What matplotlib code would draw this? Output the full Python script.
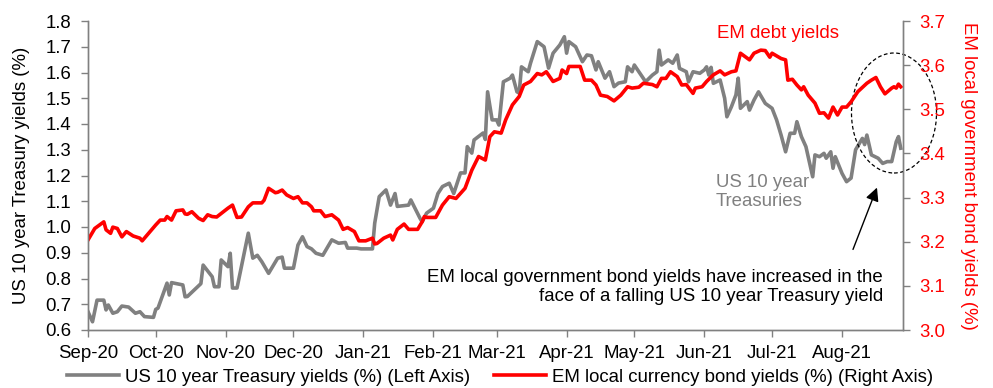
import pandas as pd
import matplotlib
matplotlib.use('Agg')
import matplotlib.pyplot as plt
import matplotlib.dates as mdates
from matplotlib.patches import Ellipse

# US 10 year Treasury yield (%), left axis
us_dates = [
    '2020-09-01', '2020-09-03', '2020-09-05', '2020-09-08', '2020-09-09', '2020-09-10', '2020-09-12',
    '2020-09-14', '2020-09-16', '2020-09-19', '2020-09-22', '2020-09-24', '2020-09-26', '2020-09-30',
    '2020-10-01', '2020-10-02', '2020-10-06', '2020-10-07', '2020-10-08', '2020-10-13', '2020-10-14',
    '2020-10-15', '2020-10-21', '2020-10-22', '2020-10-26', '2020-10-27', '2020-10-29', '2020-10-30',
    '2020-11-02', '2020-11-03', '2020-11-04', '2020-11-06', '2020-11-11', '2020-11-13', '2020-11-15',
    '2020-11-17', '2020-11-20', '2020-11-24', '2020-11-26', '2020-11-27', '2020-12-01', '2020-12-03',
    '2020-12-05', '2020-12-07', '2020-12-09', '2020-12-11', '2020-12-14', '2020-12-18', '2020-12-21',
    '2020-12-24', '2020-12-25', '2020-12-29', '2020-12-31', '2021-01-05', '2021-01-06', '2021-01-08',
    '2021-01-11', '2021-01-13', '2021-01-15', '2021-01-16', '2021-01-21', '2021-01-22', '2021-01-26',
    '2021-01-27', '2021-01-29', '2021-02-01', '2021-02-03', '2021-02-05', '2021-02-08', '2021-02-10',
    '2021-02-13', '2021-02-15', '2021-02-16', '2021-02-18', '2021-02-19', '2021-02-23', '2021-02-24',
    '2021-02-25', '2021-02-27', '2021-03-01', '2021-03-02', '2021-03-04', '2021-03-07', '2021-03-08',
    '2021-03-10', '2021-03-11', '2021-03-12', '2021-03-15', '2021-03-16', '2021-03-19', '2021-03-22',
    '2021-03-24', '2021-03-26', '2021-03-29', '2021-03-31', '2021-04-01', '2021-04-02', '2021-04-05',
    '2021-04-07', '2021-04-08', '2021-04-10', '2021-04-12', '2021-04-14', '2021-04-15', '2021-04-18',
    '2021-04-20', '2021-04-22', '2021-04-24', '2021-04-27', '2021-04-28', '2021-04-30', '2021-05-01',
    '2021-05-04', '2021-05-06', '2021-05-09', '2021-05-11', '2021-05-12', '2021-05-13', '2021-05-16',
    '2021-05-18', '2021-05-20', '2021-05-21', '2021-05-24', '2021-05-25', '2021-05-27', '2021-05-30',
    '2021-06-01', '2021-06-02', '2021-06-03', '2021-06-04', '2021-06-05', '2021-06-08', '2021-06-10',
    '2021-06-11', '2021-06-13', '2021-06-15', '2021-06-16', '2021-06-17', '2021-06-20', '2021-06-21',
    '2021-06-23', '2021-06-25', '2021-06-28', '2021-07-01', '2021-07-03', '2021-07-05', '2021-07-07',
    '2021-07-09', '2021-07-11', '2021-07-12', '2021-07-14', '2021-07-16', '2021-07-19', '2021-07-20',
    '2021-07-22', '2021-07-24', '2021-07-25', '2021-07-27', '2021-07-28', '2021-07-29', '2021-08-01',
    '2021-08-03', '2021-08-05', '2021-08-07', '2021-08-10', '2021-08-11', '2021-08-12', '2021-08-14',
    '2021-08-17', '2021-08-19', '2021-08-21', '2021-08-23', '2021-08-25', '2021-08-26', '2021-08-27',
]
us_yield = [
    0.671, 0.632, 0.716, 0.716, 0.678, 0.697, 0.665,
    0.671, 0.693, 0.689, 0.665, 0.671, 0.652, 0.649,
    0.680, 0.685, 0.782, 0.736, 0.784, 0.775, 0.729,
    0.730, 0.780, 0.852, 0.807, 0.768, 0.768, 0.872,
    0.846, 0.898, 0.763, 0.763, 0.976, 0.879, 0.890,
    0.865, 0.820, 0.879, 0.883, 0.840, 0.840, 0.930,
    0.962, 0.924, 0.915, 0.898, 0.890, 0.950, 0.937,
    0.940, 0.918, 0.918, 0.915, 0.915, 1.015, 1.118,
    1.144, 1.085, 1.130, 1.080, 1.085, 1.105, 1.035,
    1.020, 1.054, 1.073, 1.130, 1.157, 1.170, 1.130,
    1.210, 1.210, 1.312, 1.287, 1.338, 1.365, 1.340,
    1.525, 1.416, 1.416, 1.396, 1.564, 1.578, 1.590,
    1.525, 1.520, 1.622, 1.603, 1.636, 1.720, 1.700,
    1.617, 1.675, 1.707, 1.739, 1.675, 1.720, 1.700,
    1.661, 1.642, 1.668, 1.665, 1.610, 1.642, 1.578,
    1.603, 1.545, 1.559, 1.564, 1.622, 1.603, 1.629,
    1.590, 1.564, 1.590, 1.603, 1.687, 1.629, 1.649,
    1.636, 1.668, 1.616, 1.603, 1.564, 1.603, 1.597,
    1.610, 1.622, 1.590, 1.620, 1.558, 1.571, 1.500,
    1.428, 1.467, 1.513, 1.578, 1.461, 1.487, 1.454,
    1.493, 1.525, 1.480, 1.461, 1.416, 1.357, 1.292,
    1.364, 1.364, 1.409, 1.351, 1.312, 1.195, 1.280,
    1.273, 1.286, 1.267, 1.292, 1.228, 1.273, 1.208,
    1.176, 1.190, 1.300, 1.344, 1.320, 1.357, 1.280,
    1.267, 1.247, 1.254, 1.254, 1.331, 1.351, 1.306,
]

# EM local currency bond yield (%), right axis
em_dates = [
    '2020-09-01', '2020-09-04', '2020-09-08', '2020-09-09', '2020-09-11', '2020-09-12', '2020-09-14',
    '2020-09-16', '2020-09-18', '2020-09-21', '2020-09-24', '2020-09-25', '2020-09-28', '2020-10-01',
    '2020-10-03', '2020-10-05', '2020-10-06', '2020-10-08', '2020-10-10', '2020-10-13', '2020-10-14',
    '2020-10-15', '2020-10-17', '2020-10-20', '2020-10-22', '2020-10-24', '2020-10-26', '2020-10-28',
    '2020-10-30', '2020-11-02', '2020-11-04', '2020-11-06', '2020-11-08', '2020-11-11', '2020-11-13',
    '2020-11-17', '2020-11-18', '2020-11-20', '2020-11-23', '2020-11-24', '2020-11-26', '2020-11-28',
    '2020-12-01', '2020-12-03', '2020-12-05', '2020-12-07', '2020-12-09', '2020-12-10', '2020-12-13',
    '2020-12-15', '2020-12-18', '2020-12-21', '2020-12-23', '2020-12-25', '2020-12-28', '2020-12-30',
    '2021-01-02', '2021-01-05', '2021-01-06', '2021-01-07', '2021-01-10', '2021-01-13', '2021-01-14',
    '2021-01-16', '2021-01-19', '2021-01-21', '2021-01-25', '2021-01-27', '2021-01-28', '2021-01-29',
    '2021-02-02', '2021-02-05', '2021-02-08', '2021-02-11', '2021-02-15', '2021-02-18', '2021-02-21',
    '2021-02-24', '2021-02-26', '2021-02-28', '2021-03-03', '2021-03-05', '2021-03-08', '2021-03-11',
    '2021-03-13', '2021-03-16', '2021-03-19', '2021-03-21', '2021-03-23', '2021-03-26', '2021-03-29',
    '2021-03-30', '2021-04-01', '2021-04-02', '2021-04-07', '2021-04-09', '2021-04-12', '2021-04-14',
    '2021-04-16', '2021-04-19', '2021-04-22', '2021-04-25', '2021-04-28', '2021-04-30', '2021-05-03',
    '2021-05-05', '2021-05-09', '2021-05-11', '2021-05-13', '2021-05-15', '2021-05-17', '2021-05-20',
    '2021-05-22', '2021-05-24', '2021-05-27', '2021-05-28', '2021-05-31', '2021-06-02', '2021-06-05',
    '2021-06-08', '2021-06-10', '2021-06-13', '2021-06-15', '2021-06-17', '2021-06-21', '2021-06-23',
    '2021-06-26', '2021-06-28', '2021-06-30', '2021-07-01', '2021-07-05', '2021-07-07', '2021-07-08',
    '2021-07-10', '2021-07-12', '2021-07-14', '2021-07-15', '2021-07-17', '2021-07-20', '2021-07-22',
    '2021-07-24', '2021-07-26', '2021-07-28', '2021-07-30', '2021-08-01', '2021-08-03', '2021-08-05',
    '2021-08-08', '2021-08-12', '2021-08-14', '2021-08-16', '2021-08-18', '2021-08-20', '2021-08-23',
    '2021-08-24', '2021-08-25', '2021-08-26', '2021-08-27',
]
em_yield = [
    3.204, 3.230, 3.245, 3.227, 3.219, 3.233, 3.230,
    3.211, 3.223, 3.213, 3.208, 3.202, 3.220, 3.238,
    3.249, 3.249, 3.257, 3.249, 3.270, 3.272, 3.263,
    3.262, 3.268, 3.253, 3.248, 3.261, 3.257, 3.256,
    3.264, 3.276, 3.283, 3.255, 3.256, 3.279, 3.288,
    3.288, 3.294, 3.321, 3.311, 3.312, 3.317, 3.306,
    3.298, 3.302, 3.288, 3.288, 3.279, 3.270, 3.270,
    3.257, 3.261, 3.249, 3.228, 3.232, 3.223, 3.202,
    3.202, 3.208, 3.195, 3.196, 3.208, 3.215, 3.204,
    3.228, 3.240, 3.228, 3.228, 3.245, 3.257, 3.255,
    3.255, 3.283, 3.302, 3.298, 3.321, 3.362, 3.393,
    3.385, 3.438, 3.449, 3.446, 3.476, 3.510, 3.529,
    3.555, 3.563, 3.581, 3.578, 3.585, 3.563, 3.570,
    3.589, 3.581, 3.597, 3.597, 3.566, 3.566, 3.555,
    3.532, 3.529, 3.519, 3.532, 3.551, 3.548, 3.550,
    3.559, 3.556, 3.551, 3.570, 3.570, 3.585, 3.574,
    3.555, 3.556, 3.536, 3.548, 3.551, 3.563, 3.578,
    3.587, 3.578, 3.585, 3.587, 3.627, 3.612, 3.627,
    3.634, 3.633, 3.618, 3.627, 3.615, 3.612, 3.566,
    3.568, 3.555, 3.544, 3.551, 3.532, 3.514, 3.491,
    3.492, 3.480, 3.505, 3.487, 3.505, 3.505, 3.517,
    3.540, 3.559, 3.566, 3.572, 3.551, 3.535, 3.548,
    3.551, 3.548, 3.557, 3.551,
]

left_ticks = [0.6, 0.7, 0.8, 0.9, 1.0, 1.1, 1.2, 1.3, 1.4, 1.5, 1.6, 1.7, 1.8]
right_ticks = [3.0, 3.1, 3.2, 3.3, 3.4, 3.5, 3.6, 3.7]

GREY = '#808080'
RED = '#ff0000'

plt.rcParams['font.family'] = ['Liberation Sans', 'DejaVu Sans']
plt.rcParams['font.size'] = 13.4

W, H = 993, 388


def px(x, y):
    # pixel position -> figure fraction
    return (x / W, 1 - y / H)


fig = plt.figure(figsize=(W / 100, H / 100), dpi=100)
ax = fig.add_axes([88 / W, 58 / H, 815 / W, 309 / H])
ax2 = ax.twinx()

l1, = ax.plot(pd.to_datetime(us_dates), us_yield, color=GREY, lw=2.6,
              label='US 10 year Treasury yields (%) (Left Axis)')
l2, = ax2.plot(pd.to_datetime(em_dates), em_yield, color=RED, lw=2.6,
               label='EM local currency bond yields (%) (Right Axis)')

ax.set_xlim(pd.Timestamp('2020-09-01'), pd.Timestamp('2021-08-28'))
ax.set_ylim(0.6, 1.8)
ax2.set_ylim(3.0, 3.7)
ax.set_yticks(left_ticks)
ax.set_yticklabels(['%.1f' % v for v in left_ticks])
ax2.set_yticks(right_ticks)
ax2.set_yticklabels(['%.1f' % v for v in right_ticks])

ax.set_xticks(pd.date_range('2020-09-01', '2021-08-01', freq='MS'))
ax.xaxis.set_major_formatter(mdates.DateFormatter('%b-%y'))

for a in (ax, ax2):
    a.spines['top'].set_visible(False)
    for s in ('left', 'right', 'bottom'):
        a.spines[s].set_color(GREY)
        a.spines[s].set_linewidth(1)
    a.tick_params(direction='out', length=5, width=1, color=GREY, pad=7)
ax.tick_params(axis='x', pad=6)
ax2.tick_params(axis='y', labelcolor=RED)

ax.set_ylabel('US 10 year Treasury yields (%)', va='center')
ax.yaxis.set_label_coords(-0.081, 0.5)
ax2.set_ylabel('EM local government bond yields (%)', color=RED, rotation=270, va='center')
ax2.yaxis.set_label_coords(1.080, 0.5)

# annotations
fig.text(*px(717, 33), 'EM debt yields', color=RED, ha='left', va='center')
fig.text(*px(716, 192), 'US 10 year\nTreasuries', color=GREY, ha='left', va='center',
         linespacing=1.2)
fig.text(*px(883, 287),
         'EM local government bond yields have increased in the\nface of a falling US 10 year Treasury yield',
         ha='right', va='center', multialignment='right', linespacing=1.2)

ax2.add_patch(Ellipse(px(894, 113), 85 / W, 120 / H, transform=fig.transFigure,
                      fill=False, ec='black', lw=0.9, ls=(0, (3, 2)), clip_on=False))
ax2.annotate('', xy=px(878, 185), xycoords='figure fraction',
             xytext=px(852, 252), textcoords='figure fraction',
             arrowprops=dict(arrowstyle='-|>', color='black', lw=1, mutation_scale=20))

fig.legend(handles=[l1, l2], loc='center', bbox_to_anchor=px(500, 377), ncol=2,
           frameon=False, handlelength=2.8, handletextpad=0.3, columnspacing=1.3,
           borderaxespad=0, borderpad=0)

fig.savefig('out.png', dpi=100)
